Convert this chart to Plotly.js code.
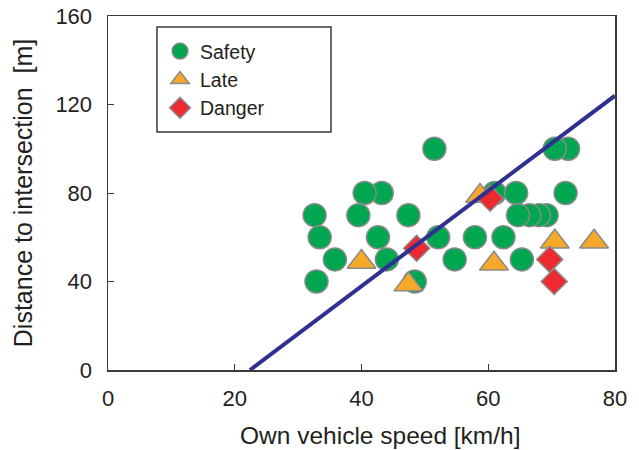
<!DOCTYPE html>
<html>
<head>
<meta charset="utf-8">
<script src="https://cdn.plot.ly/plotly-3.0.1.min.js"></script>
<style>html,body{margin:0;padding:0;background:#fff;}#chart{width:639px;height:450px;}</style>
</head>
<body>
<div id="chart"></div>
<script>
// Data
const safetyX = [51.5, 72.6, 70.5, 43.2, 40.5, 61, 64.4, 72.2, 32.6, 39.5, 47.4, 69.2, 68, 66.5, 64.7, 33.4, 42.6, 52.1, 57.9, 62.4, 35.8, 44, 54.7, 65.3, 32.9, 48.4];
const safetyY = [100, 100, 100, 80, 80, 80, 80, 80, 70, 70, 70, 70, 70, 70, 70, 60, 60, 60, 60, 60, 50, 50, 50, 50, 40, 40];
const lateX = [40, 47.4, 58.7, 60.9, 70.5, 76.7];
const lateY = [48.8, 38.6, 78.6, 48, 58, 58];
const dangerX = [48.7, 60.3, 69.7, 70.4];
const dangerY = [55, 77.6, 50, 40];
const lineX = [22.4, 80];
const lineY = [0, 124];
const seriesNames = ['Safety', 'Late', 'Danger'];
const xTicks = [0, 20, 40, 60, 80];
const yTicks = [0, 40, 80, 120, 160];
const xTitle = 'Own vehicle speed [km/h]';
const yTitle = 'Distance to intersection  [m]';

const edge = {color: '#8a8a8a', width: 1.5};
const traces = [
  {x: safetyX, y: safetyY, name: seriesNames[0], type: 'scatter', mode: 'markers',
   marker: {symbol: 'circle', size: 23, color: '#00a650', line: edge}},
  {x: lateX, y: lateY, name: seriesNames[1], type: 'scatter', mode: 'markers',
   marker: {symbol: 'triangle-up', size: 25, color: '#f6a829', line: edge}},
  {x: dangerX, y: dangerY, name: seriesNames[2], type: 'scatter', mode: 'markers',
   marker: {symbol: 'diamond', size: 20, color: '#ec2a2f', line: edge}},
  {x: lineX, y: lineY, type: 'scatter', mode: 'lines', showlegend: false, hoverinfo: 'skip',
   line: {color: '#2e3192', width: 4}}
];

const fontFam = 'Liberation Sans, Arial, sans-serif';
const axisCommon = {
  showgrid: false, zeroline: false, showline: true, linecolor: '#3a3a3a', linewidth: 1.5,
  mirror: true, ticks: 'inside', ticklen: 6, tickwidth: 1, tickcolor: '#3a3a3a',
  tickfont: {family: fontFam, size: 22, color: '#231f20'}
};

const layout = {
  width: 639, height: 450,
  margin: {l: 108, r: 24, t: 16, b: 80},
  paper_bgcolor: '#ffffff', plot_bgcolor: '#ffffff',
  font: {family: fontFam, color: '#231f20'},
  xaxis: Object.assign({}, axisCommon, {
    range: [0, 80], tickvals: xTicks, ticktext: xTicks.map(String), ticklabelstandoff: 8
  }),
  yaxis: Object.assign({}, axisCommon, {
    range: [0, 160], tickvals: yTicks, ticktext: yTicks.map(String), ticklabelstandoff: 10,
    title: {text: yTitle, font: {size: 25, color: '#231f20'}, standoff: 15}
  }),
  annotations: [
    {text: xTitle, xref: 'paper', yref: 'paper', x: 0.5365, y: -0.1864,
     xanchor: 'center', yanchor: 'middle', showarrow: false,
     font: {family: fontFam, size: 24.5, color: '#231f20'}}
  ],
  shapes: [
    {type: 'rect', xref: 'paper', yref: 'paper', x0: 0.0966, x1: 0.4398, y0: 0.6723, y1: 0.9689,
     fillcolor: '#ffffff', line: {color: '#3a3a3a', width: 1.5}, layer: 'above'}
  ],
  legend: {
    x: 0.1026, y: 0.955, xanchor: 'left', yanchor: 'top',
    bgcolor: 'rgba(0,0,0,0)', borderwidth: 0,
    font: {size: 19.5, color: '#231f20'}, itemsizing: 'trace'
  },
  showlegend: true
};

Plotly.newPlot('chart', traces, layout, {staticPlot: true, displayModeBar: false});
</script>
</body>
</html>
